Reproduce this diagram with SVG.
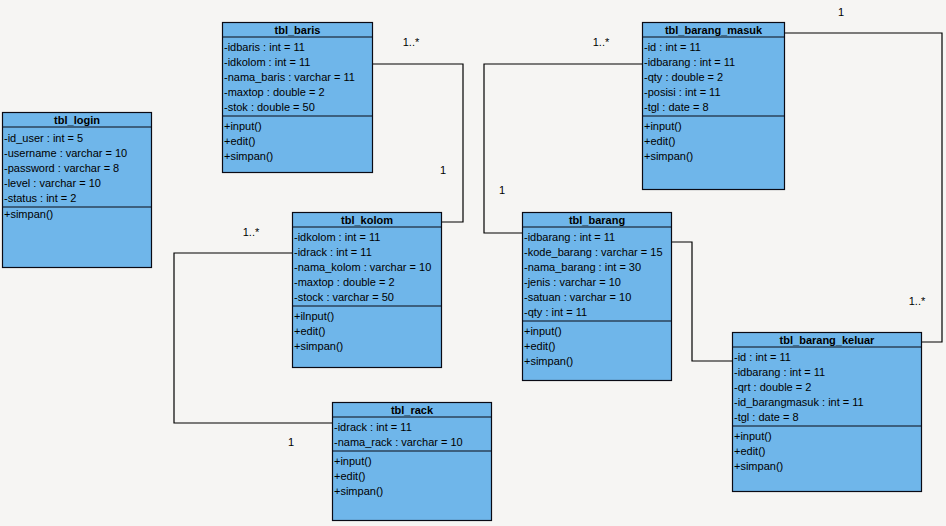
<svg xmlns="http://www.w3.org/2000/svg" width="946" height="526" viewBox="0 0 946 526">
<style>
.box{fill:#6fb6ea;stroke:#0a0a14;stroke-width:1.2}
.ln{stroke:#0a0a14;stroke-width:1.2}
.t{font-family:"Liberation Sans",Arial,sans-serif;font-size:11px;fill:#000}
.h{font-family:"Liberation Sans",Arial,sans-serif;font-size:11px;font-weight:bold;fill:#000;text-anchor:middle}
.c{fill:none;stroke:#000;stroke-width:1.2}
.m{font-family:"Liberation Sans",Arial,sans-serif;font-size:11px;fill:#000;text-anchor:middle}
</style>
<rect width="946" height="526" fill="#f6f5f3"/>
<g id="connectors">
<polyline class="c" points="373,64 463,64 463,222 442,222"/>
<polyline class="c" points="292,253 174,253 174,423 332,423"/>
<polyline class="c" points="642,64 484,64 484,233 522,233"/>
<polyline class="c" points="672,242 692,242 692,361 732,361"/>
<polyline class="c" points="785,33 942,33 942,342 922,342"/>
<text class="m" x="411" y="46">1..*</text>
<text class="m" x="443" y="174">1</text>
<text class="m" x="251" y="236">1..*</text>
<text class="m" x="291" y="446">1</text>
<text class="m" x="601" y="46">1..*</text>
<text class="m" x="502" y="194">1</text>
<text class="m" x="841" y="16">1</text>
<text class="m" x="917" y="305">1..*</text>
</g>
<g id="tbl_login">
<rect class="box" x="2.5" y="112.5" width="149" height="155"/>
<line class="ln" x1="2.5" y1="127" x2="151.5" y2="127"/>
<line class="ln" x1="2.5" y1="207" x2="151.5" y2="207"/>
<text class="h" x="77" y="124">tbl_login</text>
<text class="t" x="4" y="142">-id_user : int = 5</text>
<text class="t" x="4" y="157">-username : varchar = 10</text>
<text class="t" x="4" y="172">-password : varchar = 8</text>
<text class="t" x="4" y="187">-level : varchar = 10</text>
<text class="t" x="4" y="202">-status : int = 2</text>
<text class="t" x="4" y="218">+simpan()</text>
</g>
<g id="tbl_baris">
<rect class="box" x="222.5" y="22.5" width="150" height="150"/>
<line class="ln" x1="222.5" y1="37" x2="372.5" y2="37"/>
<line class="ln" x1="222.5" y1="116" x2="372.5" y2="116"/>
<text class="h" x="297.5" y="34">tbl_baris</text>
<text class="t" x="224" y="51">-idbaris : int = 11</text>
<text class="t" x="224" y="66">-idkolom : int = 11</text>
<text class="t" x="224" y="81">-nama_baris : varchar = 11</text>
<text class="t" x="224" y="96">-maxtop : double = 2</text>
<text class="t" x="224" y="111">-stok : double = 50</text>
<text class="t" x="224" y="130">+input()</text>
<text class="t" x="224" y="145">+edit()</text>
<text class="t" x="224" y="160">+simpan()</text>
</g>
<g id="tbl_kolom">
<rect class="box" x="292.5" y="212.5" width="149" height="155"/>
<line class="ln" x1="292.5" y1="227" x2="441.5" y2="227"/>
<line class="ln" x1="292.5" y1="306" x2="441.5" y2="306"/>
<text class="h" x="367" y="224">tbl_kolom</text>
<text class="t" x="294" y="241">-idkolom : int = 11</text>
<text class="t" x="294" y="256">-idrack : int = 11</text>
<text class="t" x="294" y="271">-nama_kolom : varchar = 10</text>
<text class="t" x="294" y="286">-maxtop : double = 2</text>
<text class="t" x="294" y="301">-stock : varchar = 50</text>
<text class="t" x="294" y="320">+ilnput()</text>
<text class="t" x="294" y="335">+edit()</text>
<text class="t" x="294" y="350">+simpan()</text>
</g>
<g id="tbl_rack">
<rect class="box" x="332.5" y="402.5" width="159" height="118"/>
<line class="ln" x1="332.5" y1="417" x2="491.5" y2="417"/>
<line class="ln" x1="332.5" y1="451" x2="491.5" y2="451"/>
<text class="h" x="412" y="414">tbl_rack</text>
<text class="t" x="334" y="431">-idrack : int = 11</text>
<text class="t" x="334" y="446">-nama_rack : varchar = 10</text>
<text class="t" x="334" y="465">+input()</text>
<text class="t" x="334" y="480">+edit()</text>
<text class="t" x="334" y="495">+simpan()</text>
</g>
<g id="tbl_barang">
<rect class="box" x="522.5" y="212.5" width="149" height="168"/>
<line class="ln" x1="522.5" y1="227" x2="671.5" y2="227"/>
<line class="ln" x1="522.5" y1="321" x2="671.5" y2="321"/>
<text class="h" x="597" y="224">tbl_barang</text>
<text class="t" x="524" y="241">-idbarang : int = 11</text>
<text class="t" x="524" y="256">-kode_barang : varchar = 15</text>
<text class="t" x="524" y="271">-nama_barang : int = 30</text>
<text class="t" x="524" y="286">-jenis : varchar = 10</text>
<text class="t" x="524" y="301">-satuan : varchar = 10</text>
<text class="t" x="524" y="316">-qty : int = 11</text>
<text class="t" x="524" y="335">+input()</text>
<text class="t" x="524" y="350">+edit()</text>
<text class="t" x="524" y="365">+simpan()</text>
</g>
<g id="tbl_barang_masuk">
<rect class="box" x="642.5" y="22.5" width="142" height="167"/>
<line class="ln" x1="642.5" y1="37" x2="784.5" y2="37"/>
<line class="ln" x1="642.5" y1="116" x2="784.5" y2="116"/>
<text class="h" x="713.5" y="34">tbl_barang_masuk</text>
<text class="t" x="644" y="51">-id : int = 11</text>
<text class="t" x="644" y="66">-idbarang : int = 11</text>
<text class="t" x="644" y="81">-qty : double = 2</text>
<text class="t" x="644" y="96">-posisi : int = 11</text>
<text class="t" x="644" y="111">-tgl : date = 8</text>
<text class="t" x="644" y="130">+input()</text>
<text class="t" x="644" y="145">+edit()</text>
<text class="t" x="644" y="160">+simpan()</text>
</g>
<g id="tbl_barang_keluar">
<rect class="box" x="732.5" y="332.5" width="189" height="159"/>
<line class="ln" x1="732.5" y1="347" x2="921.5" y2="347"/>
<line class="ln" x1="732.5" y1="426" x2="921.5" y2="426"/>
<text class="h" x="827" y="344">tbl_barang_keluar</text>
<text class="t" x="734" y="361">-id : int = 11</text>
<text class="t" x="734" y="376">-idbarang : int = 11</text>
<text class="t" x="734" y="391">-qrt : double = 2</text>
<text class="t" x="734" y="406">-id_barangmasuk : int = 11</text>
<text class="t" x="734" y="421">-tgl : date = 8</text>
<text class="t" x="734" y="440">+input()</text>
<text class="t" x="734" y="455">+edit()</text>
<text class="t" x="734" y="470">+simpan()</text>
</g>
</svg>
